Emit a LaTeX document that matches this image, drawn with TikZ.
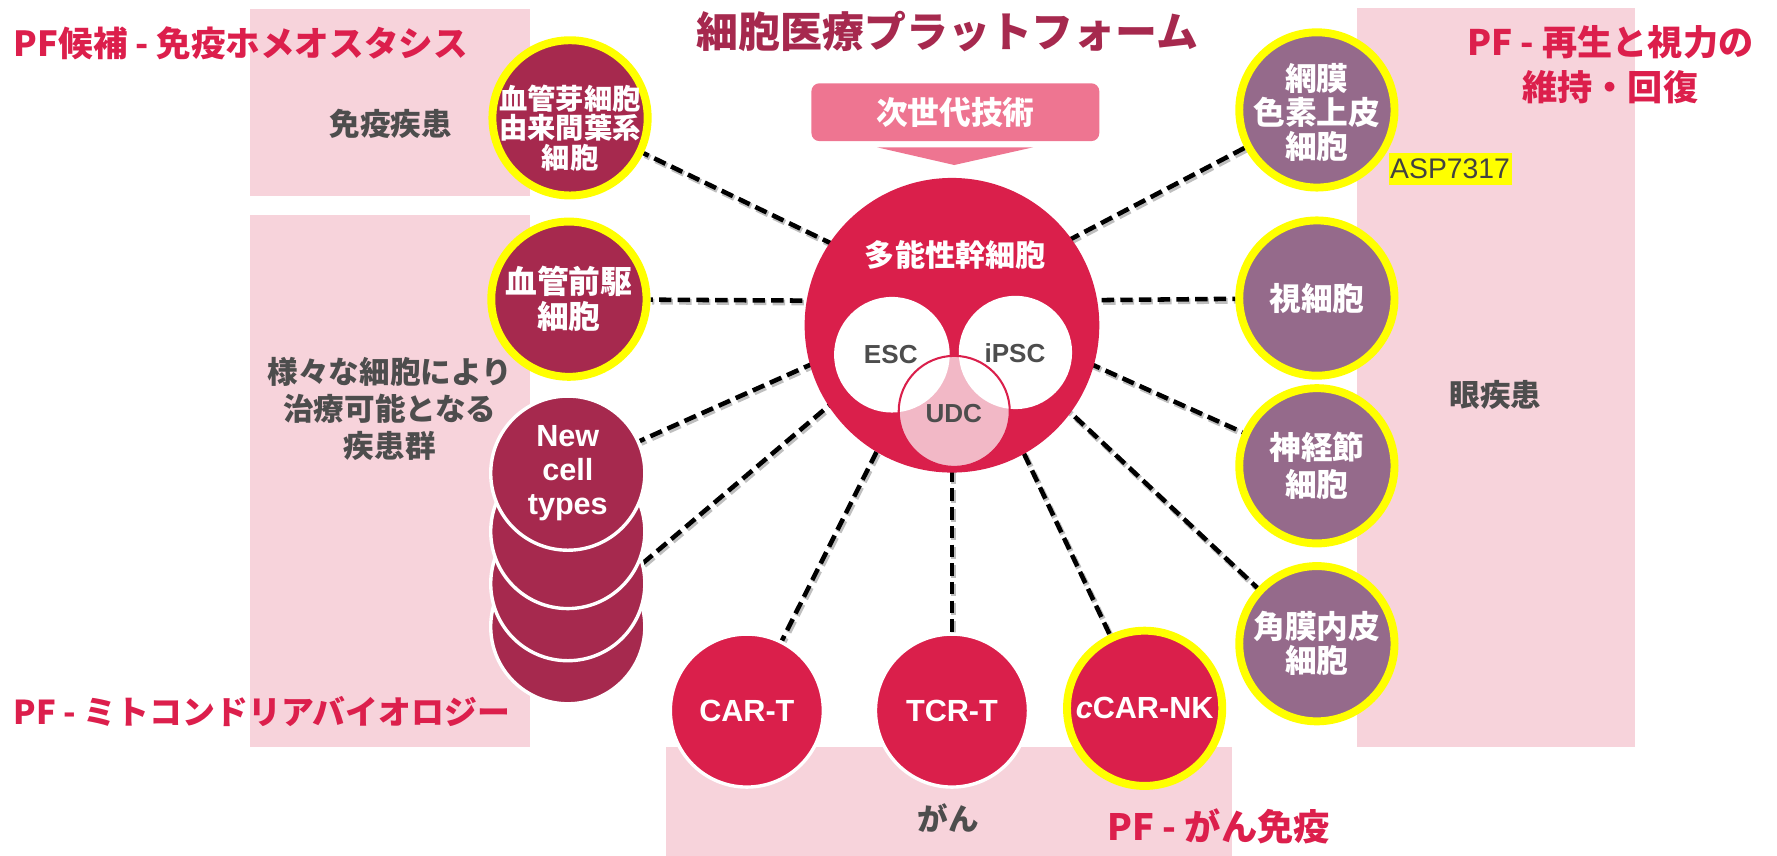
\documentclass[tikz,border=0pt]{standalone}
\usepackage{fontspec}
\newfontfamily\jp{Noto Sans CJK JP}
\newfontfamily\ar{Liberation Sans}
\usetikzlibrary{calc}
\pgfdeclarelayer{bg}
\pgfdeclarelayer{lines}
\pgfsetlayers{bg,lines,main}
\definecolor{boxpink}{HTML}{F7D3DB}
\definecolor{crim}{HTML}{DA1F4B}
\definecolor{dcrim}{HTML}{A6294E}
\definecolor{pfred}{HTML}{DC1F4C}
\definecolor{purp}{HTML}{956A8B}
\definecolor{tagpink}{HTML}{EE7591}
\definecolor{udcpink}{HTML}{F2B8C6}
\definecolor{gtext}{HTML}{4D4D4D}
\definecolor{hiyel}{HTML}{FFFF00}
\tikzset{
  ringy/.style={circle, minimum size=137pt, inner sep=0pt, line width=7pt, draw=hiyel},
  crimsat/.style={ringy, fill=dcrim},
  purpsat/.style={ringy, fill=purp},
  ringw/.style={circle, minimum size=136pt, inner sep=0pt, line width=3pt, draw=white},
  wlab/.style={text=white, font=\jp\bfseries\fontsize{28}{31}\selectfont, align=center, inner sep=0pt},
  wlabs/.style={text=white, font=\jp\bfseries\fontsize{25}{26}\selectfont, align=center, inner sep=0pt},
  elab/.style={text=white, font=\ar\bfseries\fontsize{27}{30}\selectfont, align=center, inner sep=0pt},
  slab/.style={text=gtext, font=\ar\bfseries\fontsize{23}{26}\selectfont, inner sep=0pt},
  glab/.style={text=gtext, font=\jp\bfseries\fontsize{27}{32.5}\selectfont, align=center, inner sep=0pt},
  pf/.style={text=pfred, font=\jp\bfseries\fontsize{30}{40}\selectfont, inner sep=0pt},
  conn/.style={black, line width=4pt, dash pattern=on 11pt off 5.5pt},
  connsh/.style={black, opacity=0.25, line width=5pt, dash pattern=on 11pt off 5.5pt},
}
\begin{document}
\begin{tikzpicture}[x=1pt,y=-1pt]
\useasboundingbox (0,0) rectangle (1568,755);
% pink panels
\begin{pgfonlayer}{bg}
\fill[boxpink] (221,8) rectangle (468,173);
\fill[boxpink] (221,190) rectangle (468,659);
\fill[boxpink] (1197,7) rectangle (1443,659);
\fill[boxpink] (588,659) rectangle (1087,755);
\end{pgfonlayer}
% title
\node[font=\jp\bfseries\fontsize{37}{40}\selectfont, text=dcrim, inner sep=0pt] (title) at (836,28) {細胞医療プラットフォーム};
% next-gen tag
\node[fill=tagpink, rounded corners=7pt, minimum width=254pt, minimum height=51pt, inner sep=0pt,
      text=white, font=\jp\bfseries\fontsize{28}{30}\selectfont] (tag) at (843,99) {次世代技術};
\fill[tagpink] (774,130) -- (911.5,130) -- (842,145.6) -- cycle;
% central circle
\node[circle, fill=crim, minimum size=260pt, inner sep=0pt] (big) at (840,287) {};
\coordinate (hub) at (840,266);
\node[wlab, font=\jp\bfseries\fontsize{26.6}{28}\selectfont] (psc) at (843,225) {多能性幹細胞};
\node[circle, fill=udcpink, minimum size=98pt, inner sep=0pt] (udc) at (842,363) {};
\node[circle, fill=white, minimum size=102pt, inner sep=0pt] (esc) at (787,313) {};
\node[circle, fill=white, minimum size=100pt, inner sep=0pt] (ipsc) at (896,311) {};
\draw[crim, line width=1.8pt] (udc.center) circle[radius=49pt];
\node[slab] (esct) at (786,313) {ESC};
\node[slab] (ipsct) at (895.6,311.7) {iPSC};
\node[slab] (udct) at (841.6,364.7) {UDC};
% left satellites
\node[crimsat, label={[wlabs, yshift=-9pt]center:{血管芽細胞\\由来間葉系\\細胞}}] (c1) at (503,104) {};
\node[crimsat, label={[wlab]center:{血管前駆\\細胞}}] (c2) at (502,264) {};
\node[ringw, fill=dcrim] (s4) at (501,553) {};
\node[ringw, fill=dcrim] (s3) at (501,515) {};
\node[ringw, fill=dcrim] (s2) at (501,469) {};
\node[ringw, fill=dcrim, label={[elab]center:{New\\cell\\types}}] (nct) at (501,417.5) {};
% right satellites
\node[purpsat, label={[wlab, font=\jp\bfseries\fontsize{28}{30}\selectfont, yshift=-2pt]center:{網膜\\色素上皮\\細胞}}] (rpe) at (1162,97) {};
\node[purpsat, label={[wlab]center:{視細胞}}] (rod) at (1162,263) {};
\node[purpsat, label={[wlab, font=\jp\bfseries\fontsize{28}{32}\selectfont]center:{神経節\\細胞}}] (gang) at (1162,411) {};
\node[purpsat, label={[wlab, font=\jp\bfseries\fontsize{28}{30}\selectfont]center:{角膜内皮\\細胞}}] (corn) at (1162,568) {};
% bottom satellites
\node[ringw, fill=crim, minimum size=135pt, label={[elab]center:{CAR-T}}] (cart) at (659,627) {};
\node[ringw, fill=crim, minimum size=135pt, label={[elab]center:{TCR-T}}] (tcrt) at (840,627) {};
\node[ringy, fill=crim, label={[elab]center:{{\itshape c}CAR-NK}}] (ccar) at (1010,625) {};
% tag
\node[fill=hiyel, text=gtext!85!black, font=\ar\fontsize{25}{25}\selectfont, inner xsep=1.5pt, inner ysep=0pt,
      minimum height=28pt, anchor=west] (asp) at (1225,149) {ASP7317};
% grey disease labels
\node[glab] (imm) at (345,109) {免疫疾患};
\node[glab] (var) at (344,361) {様々な細胞により\\治療可能となる\\疾患群};
\node[glab] (eye) at (1319.5,348.5) {眼疾患};
\node[glab] (can) at (837,722) {がん};
% platform titles
\node[pf, font=\jp\bfseries\fontsize{30.5}{40}\selectfont, anchor=west] (pf1) at (12,38) {PF候補 - 免疫ホメオスタシス};
\node[pf, font=\jp\bfseries\fontsize{29}{40}\selectfont, anchor=west] (pf2) at (12,628) {PF - ミトコンドリアバイオロジー};
\node[pf, font=\jp\bfseries\fontsize{31}{40}\selectfont, align=center] (pf3) at (1421,57) {PF - 再生と視力の\\維持・回復};
\node[pf, font=\jp\bfseries\fontsize{32}{40}\selectfont, anchor=west] (pf4) at (977,729) {PF - がん免疫};
% connectors
\begin{pgfonlayer}{lines}
\begin{scope}[transform canvas={shift={(1.3pt,-1.8pt)}}]
\foreach \t in {c1,c2,nct,s4,cart,tcrt,ccar,rpe,rod,gang,corn}
  \draw[connsh] (hub) -- (\t);
\end{scope}
\foreach \t in {c1,c2,nct,s4,cart,tcrt,ccar,rpe,rod,gang,corn}
  \draw[conn] (hub) -- (\t);
\end{pgfonlayer}
\end{tikzpicture}
\end{document}
